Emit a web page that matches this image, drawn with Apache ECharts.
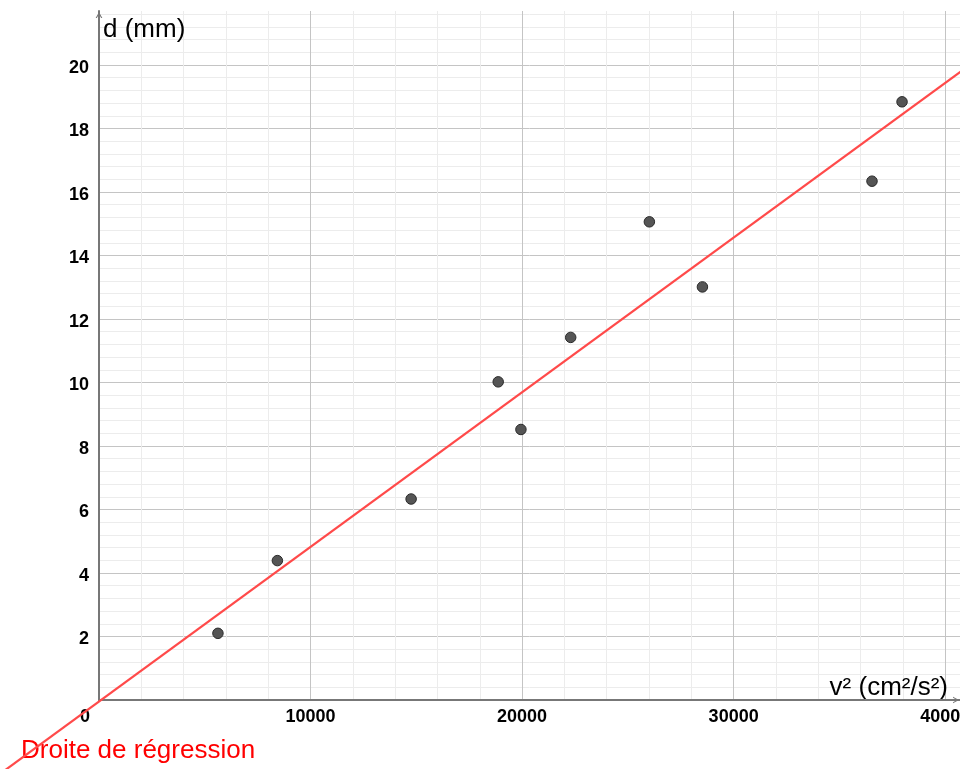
<!DOCTYPE html>
<html><head><meta charset="utf-8">
<script src="https://cdn.jsdelivr.net/npm/echarts@6/dist/echarts.min.js"></script>
<style>html,body{margin:0;padding:0;background:#fff}#c{width:960px;height:769px}</style>
</head><body><div id="c"></div>
<script>
// v² (cm²/s²) and d (mm)
const v2Values = [5622, 8432, 14754, 18871, 19945, 22297, 26016, 28524, 36540, 37960];
const dValues = [2.10, 4.39, 6.33, 10.02, 8.52, 11.42, 15.06, 13.01, 16.34, 18.84];
// regression line endpoints
const regressionX = [-4500, 41000];
const regressionY = [-2.24, 19.92];
const xTickStep = 10000;
const yTickStep = 2;
const xAxisTitle = 'v² (cm²/s²)';
const yAxisTitle = 'd (mm)';
const lineLabel = 'Droite de régression';

const font = '"Liberation Sans", Arial, sans-serif';
const chevron = 'path://M0,9 L5,0 L10,9 L8.2,9 L5,3.2 L1.8,9 Z';

// layout of the plotted quadrant
const W = 960, H = 769;
const gLeft = 99, gTop = 11, gRight = 0, gBottom = 69;
const xMax = 40700, yMax = 21.7;
// full-canvas overlay grid sharing the same scale (for the extended line)
const xPerPx = xMax / (W - gLeft - gRight);
const yPerPx = yMax / (H - gTop - gBottom);
const xMinFull = -gLeft * xPerPx;
const yMinFull = -gBottom * yPerPx;

const chart = echarts.init(document.getElementById('c'), null, {renderer: 'canvas'});
chart.setOption({
  animation: false,
  backgroundColor: '#ffffff',
  textStyle: {fontFamily: font},
  grid: [
    {left: gLeft, right: gRight, top: gTop, bottom: gBottom, containLabel: false, outerBoundsMode: 'none'},
    {left: 0, right: gRight, top: gTop, bottom: 0, containLabel: false, outerBoundsMode: 'none'}
  ],
  xAxis: [{
    type: 'value', gridIndex: 0, min: 0, max: xMax, interval: xTickStep,
    name: xAxisTitle, nameLocation: 'end', nameGap: -12, nameMoveOverlap: false,
    nameTextStyle: {fontSize: 26, color: '#000', align: 'right', verticalAlign: 'bottom', fontFamily: font, padding: [0,0,-1,0]},
    axisLine: {show: true, onZero: false, lineStyle: {color: '#777777', width: 2},
      symbol: ['none', chevron], symbolSize: [10, 6], symbolOffset: [0, -4]},
    axisTick: {show: false},
    axisLabel: {show: true, color: '#000', fontSize: 18, fontWeight: 'bold', margin: 8, fontFamily: font,
      showMaxLabel: false, hideOverlap: false,
      formatter: v => v === 0 ? '{o|0}' : String(v),
      rich: {o: {fontSize: 18, fontWeight: 'bold', color: '#000', fontFamily: font, padding: [0, 28, 0, 0]}}},
    splitLine: {show: true, showMinLine: false, showMaxLine: false, lineStyle: {color: '#c4c4c4', width: 1}},
    minorTick: {show: false, splitNumber: 5},
    minorSplitLine: {show: true, lineStyle: {color: '#ececec', width: 1}}
  }, {
    type: 'value', gridIndex: 1, min: xMinFull, max: xMax, show: false,
    splitLine: {show: false}
  }],
  yAxis: [{
    type: 'value', gridIndex: 0, min: 0, max: yMax, interval: yTickStep,
    name: yAxisTitle, nameLocation: 'end', nameGap: -6, nameMoveOverlap: false,
    nameTextStyle: {fontSize: 26, color: '#000', align: 'left', verticalAlign: 'top', fontFamily: font, padding: [0,0,0,4]},
    axisLine: {show: true, onZero: false, lineStyle: {color: '#777777', width: 2},
      symbol: ['none', chevron], symbolSize: [10, 6], symbolOffset: [0, -4]},
    axisTick: {show: false},
    axisLabel: {show: true, color: '#000', fontSize: 18, fontWeight: 'bold', margin: 10, fontFamily: font,
      showMinLabel: false, showMaxLabel: false,
      formatter: v => '{a|' + v + '}',
      rich: {a: {fontSize: 18, fontWeight: 'bold', color: '#000', fontFamily: font, padding: [6, 0, 0, 0]}}},
    splitLine: {show: true, showMinLine: false, showMaxLine: false, lineStyle: {color: '#c4c4c4', width: 1}},
    minorTick: {show: false, splitNumber: 5},
    minorSplitLine: {show: true, lineStyle: {color: '#ececec', width: 1}}
  }, {
    type: 'value', gridIndex: 1, min: yMinFull, max: yMax, show: false,
    splitLine: {show: false}
  }],
  series: [
    {
      type: 'line', xAxisIndex: 1, yAxisIndex: 1, clip: true, silent: true, symbol: 'none',
      data: regressionX.map((x, i) => [x, regressionY[i]]),
      lineStyle: {color: '#ff4a4a', width: 2.2},
      z: 3
    },
    {
      type: 'scatter', xAxisIndex: 0, yAxisIndex: 0, symbol: 'circle', symbolSize: 10.5,
      data: v2Values.map((x, i) => [x, dValues[i]]),
      itemStyle: {color: '#555555', borderColor: '#2a2a2a', borderWidth: 1, opacity: 1},
      z: 4
    }
  ],
  graphic: [
    {type: 'text', left: 21, top: 738, style: {text: lineLabel, fill: '#ff0000', fontSize: 26, fontFamily: font}}
  ]
});
</script>
</body></html>
